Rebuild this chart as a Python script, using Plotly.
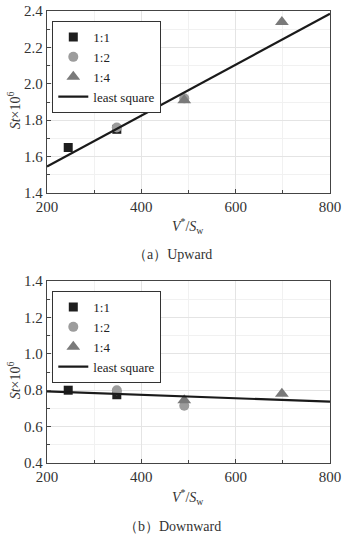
import plotly.graph_objects as go

# ---- data ----
up_11_x = [245, 348]
up_11_y = [1.65, 1.75]
up_12_x = [348, 491]
up_12_y = [1.76, 1.92]
up_14_x = [491, 698]
up_14_y = [1.91, 2.34]
up_fit_x = [200, 800]
up_fit_y = [1.545, 2.385]

dn_11_x = [245, 348]
dn_11_y = [0.80, 0.775]
dn_12_x = [348, 491]
dn_12_y = [0.80, 0.715]
dn_14_x = [491, 698]
dn_14_y = [0.745, 0.78]
dn_fit_x = [200, 800]
dn_fit_y = [0.793, 0.737]

x_ticks = [200, 400, 600, 800]
up_ticks = [1.4, 1.6, 1.8, 2.0, 2.2, 2.4]
dn_ticks = [0.4, 0.6, 0.8, 1.0, 1.2, 1.4]

FONT = "Liberation Serif"
C_SQ, C_CI, C_TR, C_LN = "#1e1e1e", "#9c9c9c", "#7a7a7a", "#1a1a1a"

fig = go.Figure()

def add_panel(xa, ya, leg, d11, d12, d14, dfit):
    common = dict(xaxis=xa, yaxis=ya, legend=leg)
    fig.add_trace(go.Scatter(x=d11[0], y=d11[1], mode="markers", name="1:1",
                             marker=dict(symbol="square", size=9, color=C_SQ), **common))
    fig.add_trace(go.Scatter(x=d12[0], y=d12[1], mode="markers", name="1:2",
                             marker=dict(symbol="circle", size=10, color=C_CI), **common))
    fig.add_trace(go.Scatter(x=d14[0], y=d14[1], mode="markers", name="1:4",
                             marker=dict(symbol="triangle-up", size=12, color=C_TR), **common))
    fig.add_trace(go.Scatter(x=dfit[0], y=dfit[1], mode="lines", name="least square",
                             line=dict(color=C_LN, width=2.2), **common))

add_panel("x", "y", "legend", (up_11_x, up_11_y), (up_12_x, up_12_y),
          (up_14_x, up_14_y), (up_fit_x, up_fit_y))
add_panel("x2", "y2", "legend2", (dn_11_x, dn_11_y), (dn_12_x, dn_12_y),
          (dn_14_x, dn_14_y), (dn_fit_x, dn_fit_y))

W, H = 350, 542
ML, MR, MT, MB = 46.7, 20, 11, 79
PW, PH = W - ML - MR, H - MT - MB

def px(x):
    return (x - ML) / PW

def py(y):
    return (H - MB - y) / PH

ydom1 = [py(193), py(11)]
ydom2 = [py(463), py(281)]

minor_common = dict(ticks="inside", ticklen=3, tickcolor="#444", showgrid=True, gridcolor="#f1f1f1")
axis_common = dict(
    showline=True, linecolor="#444", linewidth=1.3, mirror=True,
    ticks="inside", ticklen=4, tickcolor="#444",
    showgrid=True, gridcolor="#e4e4e4", gridwidth=1,
    tickfont=dict(family=FONT, size=15, color="#333"),
    zeroline=False, automargin=False,
)

leg_common = dict(xanchor="left", yanchor="top", bgcolor="white", bordercolor="#333",
                  borderwidth=1, font=dict(family=FONT, size=13, color="#222"),
                  tracegroupgap=0, itemwidth=30)

fig.update_layout(
    width=W, height=H,
    margin=dict(l=ML, r=MR, t=MT, b=MB, autoexpand=False),
    paper_bgcolor="white", plot_bgcolor="white",
    font=dict(family=FONT, size=14, color="#333"),
    xaxis=dict(domain=[0, 1], range=[200, 800], tickvals=x_ticks, anchor="y",
               minor=dict(dtick=100, **minor_common), **axis_common),
    yaxis=dict(domain=ydom1, range=[1.4, 2.4], tickvals=up_ticks, tickformat=".1f", anchor="x",
               minor=dict(dtick=0.1, **minor_common), **axis_common),
    xaxis2=dict(domain=[0, 1], range=[200, 800], tickvals=x_ticks, anchor="y2",
                minor=dict(dtick=100, **minor_common), **axis_common),
    yaxis2=dict(domain=ydom2, range=[0.4, 1.4], tickvals=dn_ticks, tickformat=".1f", anchor="x2",
                minor=dict(dtick=0.1, **minor_common), **axis_common),
    legend=dict(x=px(52), y=py(21), **leg_common),
    legend2=dict(x=px(52), y=py(291), **leg_common),
    showlegend=True,
)

ann = []
def label(text, x, y, size=14, angle=0):
    ann.append(dict(text=text, x=px(x), y=py(y), xref="paper", yref="paper",
                    showarrow=False, textangle=angle, xanchor="center", yanchor="middle",
                    font=dict(family=FONT, size=size, color="#333")))

xlab = "<i>V</i><sup>*</sup>/<i>S</i><sub>w</sub>"
ylab = "<i>St</i>×10<sup>6</sup>"
label(xlab, 188, 226)
label(xlab, 188, 497)
label(ylab, 14, 110, angle=-90)
label(ylab, 14, 380, angle=-90)
label("（a）Upward", 172, 255, size=14)
label("（b）Downward", 172, 526, size=14)
fig.update_layout(annotations=ann)

fig.write_html("out.html", config={"displayModeBar": False},
               post_script="document.body.style.margin='0px';")
